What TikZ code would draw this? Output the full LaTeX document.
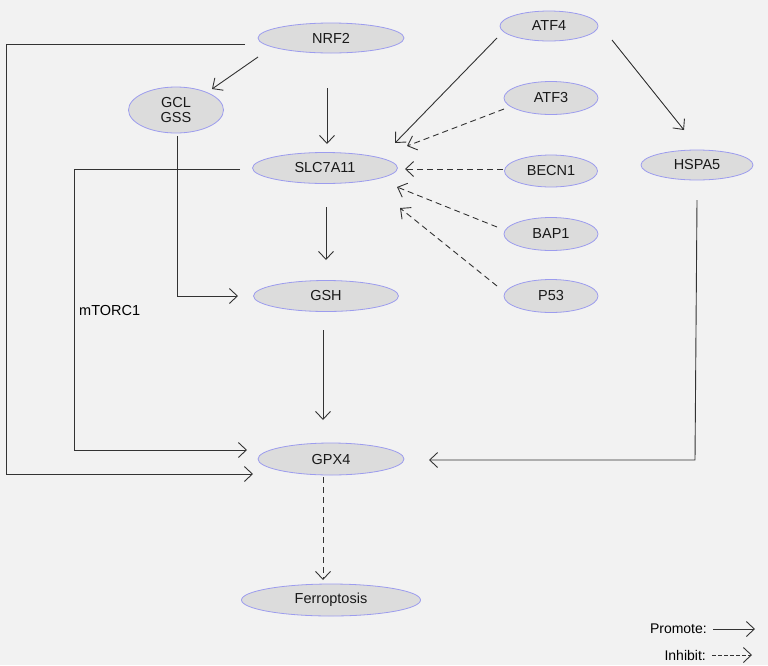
\documentclass[tikz,border=0pt]{standalone}
\usepackage{fontspec}
\setmainfont{Liberation Sans}
\usetikzlibrary{shapes.geometric,arrows.meta}

\definecolor{bgcol}{HTML}{F2F2F2}
\definecolor{nodefill}{HTML}{DCDCDC}
\definecolor{nodeline}{HTML}{9C9CEE}
\definecolor{linecol}{HTML}{333333}

\tikzset{
  gene/.style={ellipse, draw=nodeline, fill=nodefill, line width=0.8pt, inner sep=0pt,
    font=\fontsize{14.5}{17}\selectfont, text=black!90},
  arr/.style={draw=linecol, line width=0.9pt, -{Straight Barb[length=8pt,width=15pt]}},
  inh/.style={arr, dash pattern=on 6pt off 4pt}
}

\begin{document}
\begin{tikzpicture}[x=1pt,y=-1pt]

    % background and page size
    \fill[bgcol] (0,0) rectangle (768,665);
    \useasboundingbox (0,0) rectangle (768,665);

    % the genes
    \node[gene, minimum width=146, minimum height=30] (nrf2) at (331,38) {NRF2};
    \node[gene, minimum width=98, minimum height=30] (atf4) at (549,26) {ATF4};
    \node[gene, minimum width=95, minimum height=46, align=center] (gcl) at (176,110) {GCL\\[-2pt]GSS};
    \node[gene, minimum width=94, minimum height=33] (atf3) at (551,98) {ATF3};
    \node[gene, minimum width=145, minimum height=31] (slc) at (325,168) {SLC7A11};
    \node[gene, minimum width=93, minimum height=32] (becn1) at (551,171) {BECN1};
    \node[gene, minimum width=112, minimum height=30] (hspa5) at (697,165) {HSPA5};
    \node[gene, minimum width=94, minimum height=33] (bap1) at (551,234) {BAP1};
    \node[gene, minimum width=145, minimum height=31] (gsh) at (326,296) {GSH};
    \node[gene, minimum width=94, minimum height=33] (p53) at (551,296) {P53};
    \node[gene, minimum width=146, minimum height=32] (gpx4) at (331,459) {GPX4};
    \node[gene, minimum width=179, minimum height=32] (ferro) at (331,600) {Ferroptosis};

    % promoting links
    \draw[arr] ([shift={(-73,19)}]nrf2.center) -- ([shift={(36,-21)}]gcl.center);
    \draw[arr] ([shift={(-4,50)}]nrf2.center) -- ([shift={(2,-24)}]slc.center);
    \draw[arr] ([shift={(-86,6)}]nrf2.center) -- ++(-239,0) |- ([shift={(-78,15)}]gpx4.center);
    \draw[arr] ([shift={(-52,12)}]atf4.center) -- ([shift={(70,-25)}]slc.center);
    \draw[arr] ([shift={(63,14)}]atf4.center) -- ([shift={(-13,-35)}]hspa5.center);
    \draw[arr] ([shift={(1,39)}]slc.center) -- ([shift={(0,-36)}]gsh.center);
    \draw[arr] ([shift={(-85,1)}]slc.center) -- ++(-166,0) |- ([shift={(-84,-9)}]gpx4.center);
    \draw[arr] ([shift={(1,26)}]gcl.center) |- ([shift={(-88,0)}]gsh.center);
    \draw[arr] ([shift={(-3,34)}]gsh.center) -- ([shift={(-8,-39)}]gpx4.center);
    \draw[arr] ([shift={(0,35)}]hspa5.center) -- ++(-2,260) -- ([shift={(98,1)}]gpx4.center);

    % inhibiting links
    \draw[inh] ([shift={(-47,11)}]atf3.center) -- ([shift={(82,-22)}]slc.center);
    \draw[inh] ([shift={(-48,-2)}]becn1.center) -- ([shift={(80,1)}]slc.center);
    \draw[inh] ([shift={(-54,-7)}]bap1.center) -- ([shift={(72,19)}]slc.center);
    \draw[inh] ([shift={(-54,-10)}]p53.center) -- ([shift={(75,40)}]slc.center);
    \draw[inh] ([shift={(-8,18)}]gpx4.center) -- ([shift={(-8,-20)}]ferro.center);

    % label on the mTORC1 branch
    \node[anchor=west, inner sep=0pt, font=\fontsize{14.5}{17}\selectfont] (mtorc) at (79,311) {mTORC1};

    % legend
    \node[anchor=east, inner sep=0pt, font=\fontsize{14}{17}\selectfont] (promote) at (707,629) {Promote:};
    \node[anchor=east, inner sep=0pt, font=\fontsize{14}{17}\selectfont] (inhibit) at (706,655) {Inhibit:};
    \coordinate (promote end) at (755,629);
    \coordinate (inhibit end) at (752,655);
    \draw[arr] ([xshift=6]promote.east) -- (promote end);
    \draw[inh, dash pattern=on 4pt off 2pt] ([xshift=6]inhibit.east) -- (inhibit end);
\end{tikzpicture}
\end{document}
